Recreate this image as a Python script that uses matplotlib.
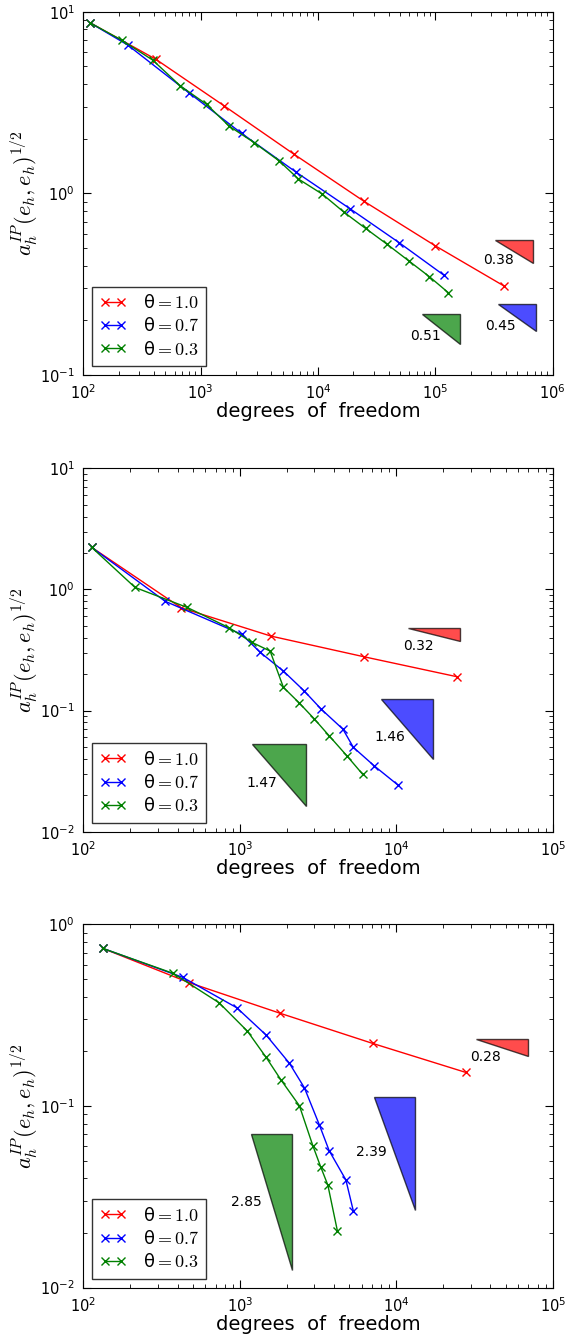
import numpy as np
import matplotlib
matplotlib.use('Agg')
import matplotlib.pyplot as plt
from matplotlib.patches import Polygon

plt.rcParams['mathtext.fontset'] = 'cm'
plt.rcParams['font.family'] = 'DejaVu Sans'

labels = [r'θ$=1.0$', r'θ$=0.7$', r'θ$=0.3$']
colors = ['r', 'b', 'g']

# panel 1
p1_dofs = [
    [114, 416, 1589, 6270, 24700, 99600, 385000],
    [114, 239, 795, 2233, 6490, 18700, 49200, 118600],
    [114, 212, 390, 667, 1125, 1743, 2866, 4660, 6810, 10900, 16600,
     25400, 38900, 59100, 88900, 129000],
]
p1_err = [
    [8.7, 5.47, 3.03, 1.64, 0.904, 0.515, 0.309],
    [8.7, 6.56, 3.58, 2.14, 1.31, 0.824, 0.535, 0.354],
    [8.7, 6.98, 5.42, 3.92, 3.09, 2.35, 1.90, 1.51, 1.20, 0.99, 0.789,
     0.642, 0.524, 0.426, 0.348, 0.284],
]
p1_rates = [0.38, 0.45, 0.51]
p1_tri_x0 = [322000, 344000, 76600]
p1_tri_x1 = [684000, 721000, 162000]
p1_tri_y0 = [0.553, 0.245, 0.218]
p1_txt_x = [344000, 360000, 81700]
p1_txt_y = [0.43, 0.185, 0.163]

# panel 2
p2_dofs = [
    [113, 422, 1585, 6240, 24600],
    [113, 333, 1030, 1349, 1900, 2576, 3313, 4560, 5320, 7260, 10240],
    [113, 214, 462, 855, 1195, 1563, 1900, 2393, 3000, 3725, 4830, 6110],
]
p2_err = [
    [2.23, 0.706, 0.412, 0.278, 0.190],
    [2.23, 0.80, 0.426, 0.303, 0.212, 0.1456, 0.1028, 0.0703, 0.0497,
     0.0348, 0.0243],
    [2.23, 1.04, 0.71, 0.483, 0.366, 0.310, 0.1555, 0.116, 0.0851,
     0.0619, 0.0424, 0.0297],
]
p2_rates = [0.32, 1.46, 1.47]
p2_tri_x0 = [11860, 7960, 1195]
p2_tri_x1 = [25600, 17300, 2640]
p2_tri_y0 = [0.483, 0.1245, 0.0526]
p2_txt_x = [13900, 9140, 1384]
p2_txt_y = [0.341, 0.0608, 0.0253]

# panel 3
p3_dofs = [
    [133, 477, 1811, 7080, 27900],
    [133, 432, 957, 1473, 2075, 2588, 3228, 3725, 4765, 5320],
    [133, 376, 738, 1120, 1473, 1836, 2404, 2930, 3297, 3655, 4208],
]
p3_err = [
    [0.738, 0.477, 0.324, 0.221, 0.153],
    [0.738, 0.511, 0.3475, 0.246, 0.172, 0.126, 0.0786, 0.0568, 0.0392,
     0.0264],
    [0.738, 0.537, 0.370, 0.258, 0.1854, 0.139, 0.1004, 0.0605, 0.046,
     0.0367, 0.0205],
]
p3_rates = [0.28, 2.39, 2.85]
p3_tri_x0 = [32400, 7230, 1175]
p3_tri_x1 = [70000, 13200, 2148]
p3_tri_y0 = [0.233, 0.1125, 0.0699]
p3_txt_x = [37000, 6920, 1097]
p3_txt_y = [0.187, 0.0556, 0.0297]

panels = [
    (p1_dofs, p1_err, p1_rates, p1_tri_x0, p1_tri_x1, p1_tri_y0, p1_txt_x, p1_txt_y,
     (1e2, 1e6), (1e-1, 1e1)),
    (p2_dofs, p2_err, p2_rates, p2_tri_x0, p2_tri_x1, p2_tri_y0, p2_txt_x, p2_txt_y,
     (1e2, 1e5), (1e-2, 1e1)),
    (p3_dofs, p3_err, p3_rates, p3_tri_x0, p3_tri_x1, p3_tri_y0, p3_txt_x, p3_txt_y,
     (1e2, 1e5), (1e-2, 1e0)),
]

fig = plt.figure(figsize=(5.66, 13.36), dpi=100)
bottoms = [0.7193, 0.3775, 0.0362]

for (dofs, err, rates, tx0, tx1, ty0, lx, ly, xl, yl), b in zip(panels, bottoms):
    ax = fig.add_axes([0.1472, b, 0.8293, 0.2719])
    for d, e, c, lab in zip(dofs, err, colors, labels):
        ax.loglog(d, e, '-x', color=c, label=lab, lw=1.0, ms=6, mew=1.0)
    for x0, x1, y0, r, c, tx, ty in zip(tx0, tx1, ty0, rates, colors, lx, ly):
        y1 = y0 * (x0 / x1) ** r
        tri = Polygon([(x0, y0), (x1, y0), (x1, y1)], closed=True,
                      facecolor=c, edgecolor='k', alpha=0.7, lw=1.0)
        ax.add_patch(tri)
        ax.text(tx, ty, '%.2f' % r, ha='center', va='center', fontsize=10)
    ax.set_xlim(*xl)
    ax.set_ylim(*yl)
    ax.tick_params(which='both', direction='in', top=True, right=True, labelsize=10.5)
    ax.tick_params(which='major', length=6, pad=6)
    ax.tick_params(which='minor', length=3)
    ax.set_xlabel('degrees  of  freedom', fontsize=14, labelpad=0)
    ax.set_ylabel(r'$a_h^{IP}(e_h,e_h)^{1/2}$', fontsize=16)
    ax.yaxis.set_label_coords(-0.092, 0.5)
    leg = ax.legend(loc='lower left', fontsize=13, numpoints=2, handlelength=1.5,
                    handletextpad=0.9, labelspacing=0.3, borderpad=0.4,
                    fancybox=False, borderaxespad=0.5)
    leg.get_frame().set_edgecolor('k')

fig.savefig('out.png', dpi=100)
